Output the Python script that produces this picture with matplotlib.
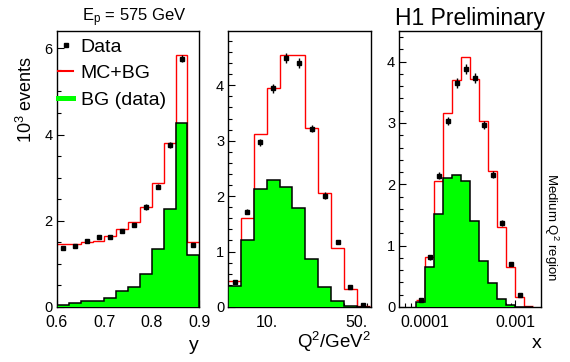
import numpy as np
import matplotlib
matplotlib.use("Agg")
import matplotlib.pyplot as plt
from matplotlib.lines import Line2D
from matplotlib.ticker import FixedLocator, NullFormatter, MultipleLocator

plt.rcParams['font.family'] = ['Liberation Sans', 'DejaVu Sans']
plt.rcParams['mathtext.fontset'] = 'custom'
plt.rcParams['mathtext.rm'] = 'Liberation Sans'
plt.rcParams['mathtext.it'] = 'Liberation Sans:italic'

# panel 1: y
y_edges = [0.6, 0.625, 0.65, 0.675, 0.7, 0.725, 0.75, 0.775, 0.8, 0.825, 0.85, 0.875, 0.9]
y_mcbg = [1.46, 1.47, 1.51, 1.54, 1.65, 1.81, 1.96, 2.32, 2.88, 3.81, 5.84, 1.51]
y_bg = [0.05, 0.09, 0.14, 0.14, 0.22, 0.37, 0.46, 0.77, 1.35, 2.28, 4.27, 1.20]
y_data = [1.37, 1.42, 1.53, 1.63, 1.63, 1.76, 1.90, 2.32, 2.79, 3.75, 5.76, 1.44]
y_err = [0.04, 0.04, 0.04, 0.05, 0.05, 0.05, 0.05, 0.06, 0.06, 0.07, 0.09, 0.05]

# panel 2: Q^2 (bins 0.1 in log10)
q2_edges = [5.01, 6.31, 7.94, 10.0, 12.6, 15.8, 19.95, 25.1, 31.6, 39.8, 50.1, 63.1]
q2_mcbg = [0.47, 1.61, 3.13, 3.96, 4.54, 4.54, 3.23, 2.06, 1.07, 0.33, 0.02]
q2_bg = [0.38, 1.20, 2.13, 2.30, 2.17, 1.78, 0.86, 0.36, 0.10, 0.01, 0.0]
q2_data = [0.45, 1.72, 2.97, 3.95, 4.49, 4.41, 3.22, 2.01, 1.17, 0.36, 0.04]
q2_err = [0.03, 0.05, 0.07, 0.08, 0.09, 0.09, 0.07, 0.06, 0.04, 0.03, 0.02]

# panel 3: x (bins 0.1 in log10)
x_edges = [7.94e-5, 1.0e-4, 1.26e-4, 1.58e-4, 2.0e-4, 2.51e-4, 3.16e-4, 3.98e-4,
           5.01e-4, 6.31e-4, 7.94e-4, 1.0e-3, 1.26e-3, 1.58e-3]
x_mcbg = [0.12, 0.81, 2.05, 3.17, 3.70, 4.08, 3.72, 3.03, 2.22, 1.30, 0.65, 0.17, 0.01]
x_bg = [0.08, 0.65, 1.52, 2.11, 2.15, 2.05, 1.40, 0.75, 0.39, 0.13, 0.04, 0.0, 0.0]
x_data = [0.11, 0.81, 2.14, 3.03, 3.65, 3.88, 3.73, 2.97, 2.16, 1.37, 0.70, 0.19]
x_err = [0.02, 0.04, 0.06, 0.07, 0.08, 0.08, 0.08, 0.07, 0.06, 0.05, 0.03, 0.02]

W, H = 570, 362
fig = plt.figure(figsize=(5.7, 3.62), dpi=100)


def make_ax(x0, x1, y0=31, y1=307):
    return fig.add_axes([x0 / W, 1 - y1 / H, (x1 - x0) / W, (y1 - y0) / H])


def draw(ax, edges, mcbg, bg, data, err, log=False):
    edges = np.array(edges)
    ax.stairs(mcbg, edges, color='#ff0000', lw=1.0, baseline=None, zorder=2)
    ax.stairs(bg, edges, fill=True, facecolor='#00ff00', edgecolor='black',
              lw=1.1, zorder=3)
    if log:
        centers = np.sqrt(edges[:-1] * edges[1:])
    else:
        centers = 0.5 * (edges[:-1] + edges[1:])
    centers = centers[:len(data)]
    ax.errorbar(centers, data, yerr=err, fmt='s', color='black', ms=3,
                elinewidth=1.0, capsize=0, zorder=4)
    ax.tick_params(which='both', direction='in', top=False, right=False, width=0.8)
    ax.tick_params(which='major', length=5)
    ax.tick_params(which='minor', length=3)
    ax.tick_params(axis='x', pad=6, labelsize=11.5)
    ax.tick_params(axis='y', pad=3, labelsize=10.5)
    for s in ax.spines.values():
        s.set_linewidth(1.0)


ax1 = make_ax(57, 199.3)
draw(ax1, y_edges, y_mcbg, y_bg, y_data, y_err)
ax1.set_xlim(0.6, 0.9)
ax1.set_ylim(0, 6.4)
ax1.xaxis.set_major_locator(FixedLocator([0.6, 0.7, 0.8, 0.9]))
ax1.set_xticklabels(['0.6', '0.7', '0.8', '0.9'])
ax1.xaxis.set_minor_locator(MultipleLocator(0.025))
ax1.yaxis.set_major_locator(MultipleLocator(2))
ax1.yaxis.set_minor_locator(MultipleLocator(0.5))

ax2 = make_ax(228.3, 370.7)
ax2.set_xscale('log')
draw(ax2, q2_edges, q2_mcbg, q2_bg, q2_data, q2_err, log=True)
ax2.set_xlim(5.03, 64.1)
ax2.set_ylim(0, 4.98)
ax2.xaxis.set_major_locator(FixedLocator([10, 50]))
ax2.set_xticklabels(['10.', '50.'])
ax2.xaxis.set_minor_locator(FixedLocator([6, 7, 8, 9, 20, 30, 40, 60]))
ax2.xaxis.set_minor_formatter(NullFormatter())
ax2.yaxis.set_major_locator(MultipleLocator(1))
ax2.yaxis.set_minor_locator(MultipleLocator(0.2))

ax3 = make_ax(399.3, 541.3)
ax3.set_xscale('log')
draw(ax3, x_edges, x_mcbg, x_bg, x_data, x_err, log=True)
ax3.set_xlim(10 ** -4.286, 10 ** -2.71)
ax3.set_ylim(0, 4.5)
ax3.xaxis.set_major_locator(FixedLocator([1e-4, 1e-3]))
ax3.set_xticklabels(['0.0001', '0.001'])
ax3.xaxis.set_minor_locator(FixedLocator([6e-5, 7e-5, 8e-5, 9e-5, 2e-4, 3e-4, 4e-4, 5e-4,
                                          6e-4, 7e-4, 8e-4, 9e-4, 2e-3]))
ax3.xaxis.set_minor_formatter(NullFormatter())
ax3.yaxis.set_major_locator(MultipleLocator(1))
ax3.yaxis.set_minor_locator(MultipleLocator(0.2))

# legend
handles = [Line2D([], [], ls='none', marker='s', ms=3.5, color='black'),
           Line2D([], [], color='#ff0000', lw=1.5),
           Line2D([], [], color='#00ff00', lw=3.6)]
ax1.legend(handles, ['Data', 'MC+BG', 'BG (data)'], loc='upper left',
           bbox_to_anchor=(0.01, 0.975), frameon=False, fontsize=14,
           handlelength=0.75, handletextpad=0.4, labelspacing=0.47,
           borderaxespad=0, borderpad=0)

# texts
fig.text(134 / W, 1 - 18 / H, r'E$_\mathregular{p}$ = 575 GeV', fontsize=12,
         ha='center', va='center')
fig.text(470 / W, 1 - 19 / H, 'H1 Preliminary', fontsize=16.5,
         ha='center', va='center')
fig.text(26 / W, 1 - 99 / H, r'10$^\mathregular{3}$ events', fontsize=13,
         rotation=90, ha='center', va='center')
fig.text(551 / W, 1 - 227 / H, r'Medium Q$^\mathregular{2}$ region', fontsize=9.5,
         rotation=270, ha='center', va='center')
fig.text(199 / W, 1 - 345 / H, 'y', fontsize=14, ha='right', va='center')
fig.text(370.7 / W, 1 - 342 / H, r'Q$^\mathregular{2}$/GeV$^\mathregular{2}$',
         fontsize=13.5, ha='right', va='center')
fig.text(541.3 / W, 1 - 343 / H, 'x', fontsize=14, ha='right', va='center')

fig.savefig('out.png', dpi=100)
